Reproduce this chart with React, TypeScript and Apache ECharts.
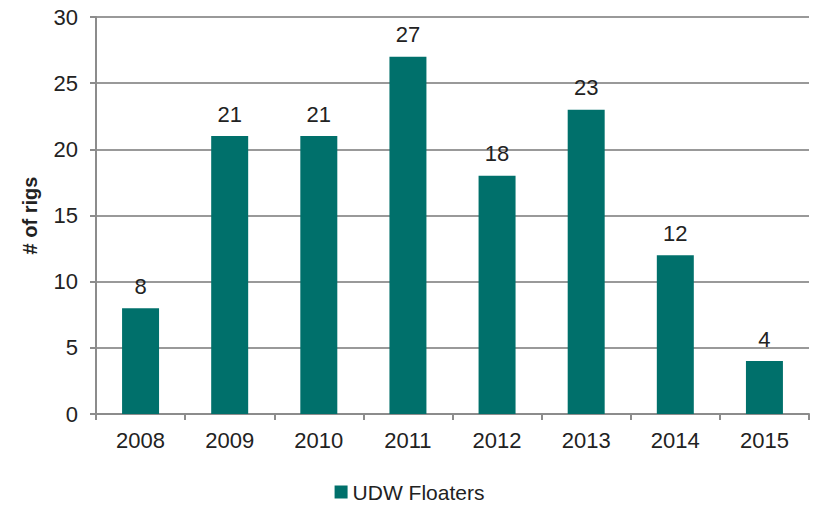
import React, { useEffect, useRef } from "react";
import * as echarts from "echarts";

const categories = ["2008", "2009", "2010", "2011", "2012", "2013", "2014", "2015"];
const udwFloaters = [8, 21, 21, 27, 18, 23, 12, 4];
const seriesName = "UDW Floaters";
const yAxisName = "# of rigs";

export default function App() {
  const ref = useRef<HTMLDivElement>(null);
  useEffect(() => {
    if (!ref.current) return;
    const chart = echarts.init(ref.current, null, { renderer: "svg" });
    const font = "Liberation Sans, Arial, sans-serif";
    chart.setOption({
      animation: false,
      textStyle: { fontFamily: font },
      grid: { left: 96, top: 17, right: 10, bottom: 93, containLabel: false },
      legend: {
        top: 481,
        left: "center",
        padding: 0,
        itemWidth: 13,
        itemHeight: 13,
        itemGap: 6,
        icon: "rect",
        textStyle: { fontSize: 21, lineHeight: 22, color: "#222", fontFamily: font },
        data: [seriesName],
      },
      xAxis: {
        type: "category",
        data: categories,
        axisLine: { lineStyle: { color: "#8c8c8c", width: 2 } },
        axisTick: { show: true, alignWithLabel: false, length: 6, lineStyle: { color: "#8c8c8c", width: 2 } },
        axisLabel: { fontSize: 22, color: "#222", margin: 15, fontFamily: font },
      },
      yAxis: {
        type: "value",
        min: 0,
        max: 30,
        interval: 5,
        name: yAxisName,
        nameLocation: "middle",
        nameGap: 56,
        nameTextStyle: { fontSize: 20, fontWeight: "bold", color: "#222", fontFamily: font },
        axisLine: { show: true, lineStyle: { color: "#8c8c8c", width: 2 } },
        axisTick: { show: true, length: 6, lineStyle: { color: "#8c8c8c", width: 2 } },
        axisLabel: { fontSize: 22, color: "#222", margin: 18, fontFamily: font },
        splitLine: { lineStyle: { color: "#999", width: 2 } },
      },
      series: [
        {
          name: seriesName,
          type: "bar",
          data: udwFloaters,
          barWidth: "41.5%",
          itemStyle: { color: "#00706b" },
          label: {
            show: true,
            position: "top",
            distance: 11,
            fontSize: 22,
            color: "#222",
            fontFamily: font,
          },
        },
      ],
    });
    return () => chart.dispose();
  }, []);
  return (
    <div
      ref={ref}
      style={{ position: "absolute", left: 0, top: 0, width: 819, height: 507 }}
    />
  );
}
